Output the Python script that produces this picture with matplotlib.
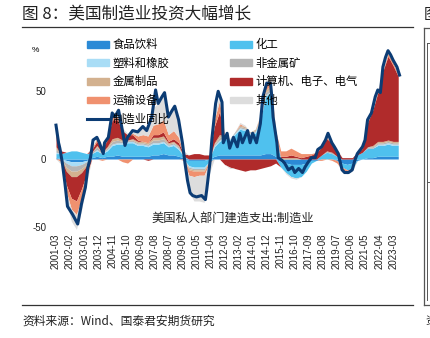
import numpy as np
import matplotlib
matplotlib.use("Agg")
import matplotlib.pyplot as plt
from matplotlib.patches import Patch
from matplotlib.lines import Line2D

plt.rcParams['font.family'] = ['Noto Sans CJK SC', 'DejaVu Sans']
plt.rcParams['axes.unicode_minus'] = False

# ---------------- data ----------------
line_dates = ["2001-03","2001-05","2001-06","2001-08","2001-10","2001-12","2002-04","2002-08",
              "2002-11","2003-02","2003-04","2003-06","2003-08","2003-11","2004-01","2004-04",
              "2004-05","2004-08","2004-11","2005-01","2005-04","2005-07","2005-09","2005-11",
              "2006-03","2006-07","2006-11","2007-02","2007-06","2007-09","2007-11","2008-02",
              "2008-04","2008-07","2008-10","2008-12","2009-03","2009-06","2009-08","2009-10",
              "2009-12","2010-02","2010-05","2010-09","2010-12","2011-01","2011-04","2011-05",
              "2011-08","2011-10","2012-01","2012-02","2012-05","2012-07","2012-10","2013-01",
              "2013-03","2013-05","2013-09","2013-11","2014-01","2014-04","2014-07","2014-09",
              "2014-12","2015-03","2015-04","2015-05","2015-08","2015-09","2015-12","2016-02",
              "2016-05","2016-08","2016-10","2017-01","2017-04","2017-06","2017-08","2017-11",
              "2018-02","2018-04","2018-07","2018-10","2018-12","2019-03","2019-05","2019-08",
              "2019-11","2020-01","2020-04","2020-07","2020-09","2020-11","2021-03","2021-05",
              "2021-07","2021-10","2022-01","2022-03","2022-05","2022-07","2022-09","2022-11",
              "2023-01","2023-03","2023-06","2023-08"]
line_values = [25, 12, 8, -3, -18, -35, -41, -48,
               -33, -21, -6, 1, 14, 16, 12, 4,
               12, 16, 34, 31, 36, 21, 10, 16,
               21, 20, 24, 21, 31, 51, 41, 46,
               49, 31, 36, 39, 29, 12, -3, -16,
               -25, -27, -28, -27, -30, -23, 1, 14,
               41, 50, 42, 12, 19, 8, 16, 9,
               19, 12, 21, 12, 19, 12, 26, 46,
               56, 56, 46, 31, 12, 1, -1, -3,
               -8, -6, -10, -7, -10, -6, -3, 1,
               1, 7, 9, 14, 19, 12, 9, 4,
               -8, -10, -10, -8, -1, 4, 9, 14,
               29, 34, 46, 51, 49, 68, 75, 80,
               77, 73, 68, 62]

comp_dates = ["2001-03","2001-07","2001-11","2002-03","2002-07","2002-11","2003-03","2003-07",
              "2003-11","2004-03","2004-07","2004-11","2005-03","2005-07","2005-11","2006-03",
              "2006-07","2006-11","2007-03","2007-07","2007-11","2008-03","2008-07","2008-11",
              "2009-03","2009-07","2009-11","2010-03","2010-07","2010-11","2011-03","2011-07",
              "2011-11","2012-03","2012-07","2012-11","2013-03","2013-07","2013-11","2014-03",
              "2014-07","2014-11","2015-03","2015-07","2015-11","2016-03","2016-07","2016-11",
              "2017-03","2017-07","2017-11","2018-03","2018-07","2018-11","2019-03","2019-07",
              "2019-11","2020-03","2020-07","2020-11","2021-03","2021-07","2021-11","2022-03",
              "2022-07","2022-11","2023-03","2023-07"]
food      = [1,0,-1,-2,-2,-2,-1,1, 2,1,2,2,3,2,2,2, 2,2,2,3,3,4,3,3, 2,1,-1,-1,-1,-1,0,2,
             3,3,3,3,3,3,3,3, 3,4,4,2,-2,-3,-4,-4, -4,-3,-1,-1,0,0,0,-1, -3,-4,-3,-1,0,1,1,2,
             2,2,2,2]
chemical  = [3,4,5,6,6,5,4,3, 4,3,4,8,8,9,10,10, 8,8,7,8,8,8,6,7, 5,1,-4,-5,-5,-5,-2,7,
             10,12,11,15,19,18,15,16, 25,42,45,14,-4,-7,-9,-10, -9,-6,-2,0,3,5,4,2,
             -3,-4,-4,3,5,7,7,8, 8,9,8,8]
plastic   = [1,0,-2,-3,-3,-2,-1,0, 1,0,1,1,1,1,1,1, 1,1,1,1,1,1,1,1, 1,0,-1,-1,-1,-1,0,1,
             1,1,1,1,1,1,1,1, 1,1,1,1,0,0,0,0, 0,0,0,0,0,0,0,0, 0,0,0,0,0,0,0,1,
             1,1,1,1]
nonmetal  = [2,0,-3,-4,-4,-3,-2,1, 2,1,1,2,2,1,1,1, 1,1,1,2,2,2,1,1, 1,0,-1,-1,-1,-1,0,1,
             2,1,0,1,1,1,1,1, 1,2,2,1,0,0,0,0, 0,0,0,0,0,1,1,0, 0,0,0,0,0,1,1,1,
             1,1,1,1]
metal     = [2,0,-3,-4,-4,-3,-1,0, 1,0,1,2,2,1,0,1, 1,1,1,2,2,2,1,1, 1,0,-1,-1,-1,-1,0,1,
             2,0,0,0,1,1,0,1, 1,2,2,1,1,1,1,1, 0,0,0,0,0,0,0,0, 0,0,0,0,0,0,1,1,
             1,1,1,1]
electric  = [9,2,-10,-16,-18,-12,-6,2, 3,2,5,14,13,7,4,3, 1,0,-1,2,2,3,1,2, 2,2,3,4,4,3,3,12,
             17,-4,-6,-7,-8,-9,-8,-8, -7,-6,-5,-3,1,1,2,1, 1,2,3,5,6,9,7,5,
             1,1,1,2,3,18,26,36, 52,62,56,48]
transport = [2,-2,-5,-8,-10,-7,-3,1, 2,-1,1,3,2,-2,-3,1, 3,5,5,7,8,9,5,6, 4,-1,-4,-4,-3,-3,-1,5,
             8,1,0,0,1,0,0,0, 1,4,4,2,4,4,5,4, 3,2,1,0,-1,1,-1,-2,
             -2,-2,-1,0,1,1,1,1, 1,2,2,1]
other     = [5,-2,-6,-9,-11,-9,-4,0, 1,0,0,2,3,2,1,2, 3,6,7,13,15,19,13,17, 13,2,-12,-18,-19,-20,-8,3,
             5,0,-1,0,1,1,0,0, 1,4,3,0,0,-1,-1,-1, 0,0,0,0,1,1,1,1,
             -1,-1,-1,0,0,1,1,1, 2,2,2,2]

series_names = ["食品饮料", "化工", "塑料和橡胶", "非金属矿", "金属制品",
                "计算机、电子、电气", "运输设备", "其他"]
series_values = [food, chemical, plastic, nonmetal, metal, electric, transport, other]
series_colors = ["#2b8ad6", "#4fc1ee", "#a9ddf6", "#b5b5b5", "#d3b18f",
                 "#b02b2b", "#f0916f", "#dddddd"]
line_name = "制造业同比"
line_color = "#0c3c74"

tick_labels = ["2001-03","2002-02","2003-01","2003-12","2004-11","2005-10","2006-09","2007-08",
               "2008-07","2009-06","2010-05","2011-04","2012-03","2013-02","2014-01","2014-12",
               "2015-11","2016-10","2017-09","2018-08","2019-07","2020-06","2021-05","2022-04",
               "2023-03"]


def midx(s):
    y, m = s.split("-")
    return (int(y) - 2001) * 12 + (int(m) - 3)


# ---------------- figure ----------------
W, H = 431, 338
fig = plt.figure(figsize=(W / 100, H / 100), dpi=100)
fig.patch.set_facecolor("white")

def fx(px):
    return px / W

def fy(py):
    return 1 - py / H

ax_l, ax_r, ax_t, ax_b = 52, 404, 35, 232
ax = fig.add_axes([fx(ax_l), fy(ax_b), (ax_r - ax_l) / W, (ax_b - ax_t) / H])
# month m at px = 56 + 1.277 m ; value v at py = 159 - 1.354 v
ax.set_xlim((ax_l - 56) / 1.277, (ax_r - 56) / 1.277)
ax.set_ylim((159 - ax_b) / 1.354, (159 - ax_t) / 1.354)

cx = np.array([midx(d) for d in comp_dates], dtype=float)
pos_base = np.zeros(len(cx))
neg_base = np.zeros(len(cx))
for vals, col in zip(series_values, series_colors):
    v = np.array(vals, dtype=float)
    p = np.clip(v, 0, None)
    n = np.clip(v, None, 0)
    ax.fill_between(cx, pos_base, pos_base + p, color=col, lw=0, zorder=2)
    ax.fill_between(cx, neg_base, neg_base + n, color=col, lw=0, zorder=2)
    pos_base = pos_base + p
    neg_base = neg_base + n

lx = np.array([midx(d) for d in line_dates], dtype=float)
ax.plot(lx, line_values, color=line_color, lw=2.2, zorder=3, solid_joinstyle="round")

for s in ax.spines.values():
    s.set_visible(False)
ax.set_yticks([-50, 0, 50])
ax.set_yticklabels(["-50", "0", "50"], fontfamily="Liberation Sans", fontsize=7)
ax.set_xticks([midx(t) for t in tick_labels])
ax.set_xticklabels(tick_labels, rotation=90, fontfamily="Liberation Sans", fontsize=7)
ax.tick_params(axis="both", length=0, colors="#222222")
ax.tick_params(axis="y", pad=4)
ax.tick_params(axis="x", pad=1)
ax.set_facecolor("none")

fig.text(fx(35), fy(51), "%", fontsize=6, fontfamily="Liberation Sans", ha="center", va="center")

# legends
handles = [Patch(color=c) for c in series_colors]
col1 = [handles[0], handles[2], handles[4], handles[6],
        Line2D([0], [0], color=line_color, lw=2.2)]
col1_lab = [series_names[0], series_names[2], series_names[4], series_names[6], line_name]
col2 = [handles[1], handles[3], handles[5], handles[7]]
col2_lab = [series_names[1], series_names[3], series_names[5], series_names[7]]
leg_kw = dict(loc="upper left", frameon=False, fontsize=8.2, borderpad=0, borderaxespad=0,
              handlelength=1.93, handleheight=0.55, handletextpad=0.3, labelspacing=0.66,
              bbox_transform=fig.transFigure)
leg1 = ax.legend(col1, col1_lab, bbox_to_anchor=(fx(87), fy(39)), **leg_kw)
ax.add_artist(leg1)
leg2 = ax.legend(col2, col2_lab, bbox_to_anchor=(fx(230), fy(39)), **leg_kw)

fig.text(fx(233), fy(219), "美国私人部门建造支出:制造业", fontsize=8.8, ha="center", va="center",
         color="#222222")

# title / frame decorations
fig.text(fx(22), fy(14), "图 8：美国制造业投资大幅增长", fontsize=12, ha="left", va="center",
         color="#222222")
fig.add_artist(Line2D([fx(22), fx(413)], [fy(27), fy(27)], color="#333333", lw=0.9))
fig.add_artist(Line2D([fx(22), fx(413)], [fy(305), fy(305)], color="#333333", lw=0.9))
fig.text(fx(22), fy(321), "资料来源：Wind、国泰君安期货研究", fontsize=8.5, ha="left", va="center",
         color="#222222")

# neighbouring figure edge
fig.text(fx(424), fy(14), "图", fontsize=11, ha="left", va="center", color="#222222")
fig.add_artist(Line2D([fx(424), fx(424)], [fy(28), fy(305)], color="#555555", lw=0.9))
fig.add_artist(Line2D([fx(424), fx(431)], [fy(28), fy(28)], color="#555555", lw=0.9))
fig.add_artist(Line2D([fx(424), fx(431)], [fy(305), fy(305)], color="#555555", lw=0.9))
fig.add_artist(Line2D([fx(427), fx(427)], [fy(43), fy(300)], color="#555555", lw=0.7))
fig.add_artist(Line2D([fx(427), fx(431)], [fy(43), fy(43)], color="#555555", lw=0.7))
fig.add_artist(Line2D([fx(427), fx(431)], [fy(182), fy(182)], color="#555555", lw=0.7))
fig.text(fx(425), fy(321), "资", fontsize=7.8, ha="left", va="center", color="#222222")

fig.savefig("out.png", dpi=100)
